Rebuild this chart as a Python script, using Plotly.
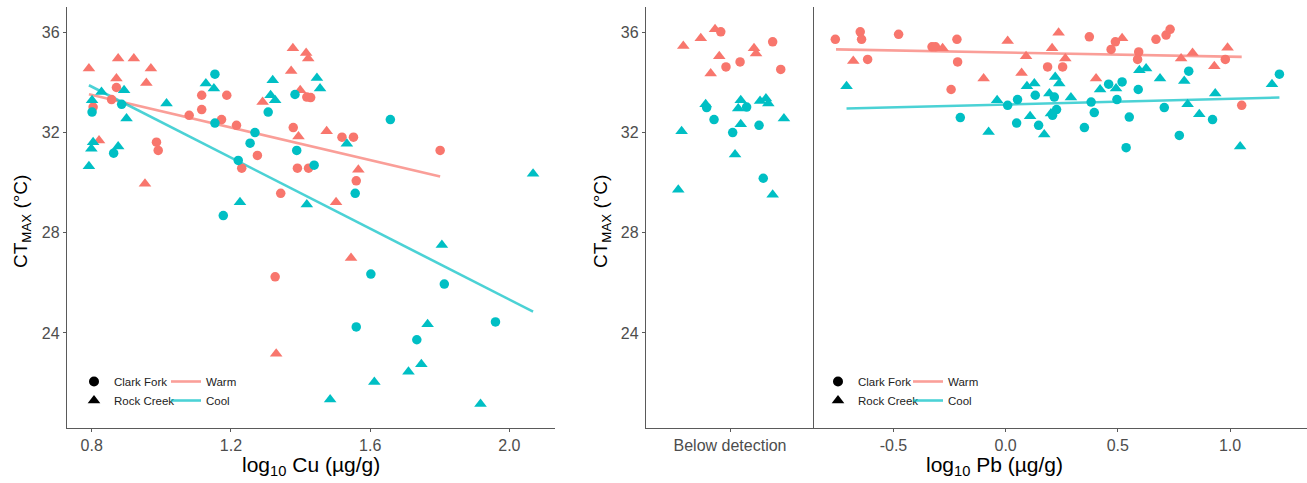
import plotly.graph_objects as go

WARM = '#F8766D'
COOL = '#00BFC4'

# ---------------- Left panel: log10 Cu ----------------
cu_warm_cf_x = [0.804, 0.857, 0.871, 0.986, 0.991, 1.080, 1.116, 1.116, 1.188, 1.173, 1.216, 1.231,
                1.276, 1.343, 1.379, 1.391, 1.423, 1.418, 1.429, 1.519, 1.552, 1.560, 1.801, 1.327]
cu_warm_cf_y = [33.01, 33.31, 33.79, 31.61, 31.28, 32.68, 33.48, 32.91, 33.48, 32.51, 32.28, 30.57,
                31.08, 29.57, 32.19, 30.57, 30.57, 33.41, 33.39, 31.81, 31.81, 30.07, 31.28, 26.24]
cu_warm_rc_x = [0.792, 0.876, 0.921, 0.970, 0.871, 0.957, 0.821, 0.953, 1.291, 1.378, 1.416, 1.422,
                1.373, 1.399, 1.394, 1.475, 1.502, 1.566, 1.330, 1.545]
cu_warm_rc_y = [34.55, 34.95, 34.95, 34.55, 34.15, 33.97, 31.68, 29.95, 33.21, 35.35, 35.17, 34.95,
                34.45, 33.68, 31.84, 32.04, 29.21, 30.51, 23.17, 26.99]
cu_cool_cf_x = [0.801, 0.863, 0.886, 1.154, 1.154, 1.269, 1.255, 1.221, 1.307, 1.384, 1.389, 1.439,
                1.178, 1.557, 1.658, 1.560, 1.602, 1.813, 1.734, 1.960]
cu_cool_cf_y = [32.81, 31.17, 33.12, 34.32, 32.37, 31.99, 31.57, 30.88, 32.81, 33.51, 31.28, 30.69,
                28.68, 29.57, 32.51, 24.24, 26.35, 25.95, 23.73, 24.44]
cu_cool_rc_x = [0.792, 0.799, 0.804, 0.801, 0.828, 0.876, 0.893, 0.900, 1.015, 1.128, 1.151, 1.226,
                1.320, 1.314, 1.327, 1.418, 1.447, 1.456, 1.533, 2.068, 1.485, 1.806, 1.765, 1.747,
                1.710, 1.612, 1.917]
cu_cool_rc_y = [30.65, 31.35, 31.61, 33.28, 33.61, 31.44, 33.68, 32.55, 33.15, 33.95, 33.75, 29.21,
                34.08, 33.48, 33.28, 29.12, 34.17, 33.75, 31.55, 30.35, 21.35, 27.51, 24.35, 22.75,
                22.45, 22.04, 21.17]
cu_fit_warm_x = [0.792, 1.801]
cu_fit_warm_y = [33.52, 30.24]
cu_fit_cool_x = [0.792, 2.068]
cu_fit_cool_y = [33.88, 24.85]

# ---------------- Right panel: below detection (jittered) ----------------
bd_warm_cf_x = [-0.055, -0.024, 0.060, 0.254, 0.302]
bd_warm_cf_y = [36.01, 34.61, 34.81, 35.61, 34.51]
bd_warm_rc_x = [-0.278, -0.174, -0.089, -0.064, -0.115, 0.143, 0.155]
bd_warm_rc_y = [35.44, 35.75, 36.11, 35.04, 34.35, 35.35, 35.15]
bd_cool_cf_x = [-0.139, -0.095, 0.099, 0.016, 0.173, 0.198]
bd_cool_cf_y = [32.99, 32.51, 33.01, 31.99, 32.28, 30.17]
bd_cool_rc_x = [-0.288, -0.308, -0.145, 0.064, 0.049, 0.064, 0.030, 0.179, 0.214, 0.228, 0.321, 0.254]
bd_cool_rc_y = [32.04, 29.71, 33.12, 33.28, 32.95, 32.32, 31.12, 33.25, 33.35, 33.15, 32.55, 29.51]

# ---------------- Right panel: log10 Pb ----------------
pb_warm_cf_x = [-0.759, -0.648, -0.642, -0.615, -0.477, -0.328, -0.313, -0.217, -0.214, -0.243, 0.187,
                0.254, 0.373, 0.489, 0.470, 0.593, 0.588, 0.670, 0.715, 0.733, 0.979, 1.052]
pb_warm_cf_y = [35.71, 36.01, 35.71, 34.91, 35.91, 35.41, 35.41, 35.71, 34.81, 33.71, 34.61,
                34.61, 35.81, 35.61, 35.31, 35.21, 34.91, 35.71, 35.88, 36.11, 34.91, 33.08]
pb_warm_rc_x = [-0.679, -0.281, -0.098, 0.009, 0.091, 0.071, 0.236, 0.207, 0.266, 0.519, 0.403, 0.782,
                0.833, 0.930, 0.989]
pb_warm_rc_y = [34.85, 35.35, 34.15, 35.64, 35.04, 34.37, 35.97, 35.35, 34.95, 35.75, 34.15, 34.95,
                35.17, 34.64, 35.37]
pb_cool_cf_x = [-0.202, 0.009, 0.053, 0.049, 0.147, 0.132, 0.217, 0.227, 0.209, 0.351, 0.381, 0.395,
                0.459, 0.519, 0.496, 0.551, 0.537, 0.591, 0.707, 0.774, 0.816, 0.922, 1.220]
pb_cool_cf_y = [32.59, 33.08, 33.31, 32.37, 32.28, 33.48, 33.41, 32.91, 32.68, 32.19, 33.21, 32.79,
                33.92, 34.01, 33.31, 32.61, 31.39, 33.71, 32.99, 31.88, 34.44, 32.51, 34.32]
pb_cool_rc_x = [-0.709, -0.076, -0.038, 0.095, 0.128, 0.109, 0.172, 0.195, 0.221, 0.239, 0.202, 0.291,
                0.421, 0.492, 0.596, 0.626, 0.688, 0.796, 0.811, 0.863, 0.934, 1.045, 1.187]
pb_cool_rc_y = [33.84, 32.01, 33.28, 33.84, 33.95, 32.64, 31.92, 33.55, 34.21, 33.95, 32.75, 33.39,
                33.71, 33.75, 34.48, 34.55, 34.15, 34.05, 33.12, 32.72, 33.55, 31.44, 33.92]
pb_fit_warm_x = [-0.756, 1.052]
pb_fit_warm_y = [35.31, 35.01]
pb_fit_cool_x = [-0.709, 1.220]
pb_fit_cool_y = [32.95, 33.39]

y_ticks = [24, 28, 32, 36]
cu_ticks = [0.8, 1.2, 1.6, 2.0]
cu_ticktext = ['0.8', '1.2', '1.6', '2.0']
pb_ticks = [-0.5, 0.0, 0.5, 1.0]
pb_ticktext = ['-0.5', '0.0', '0.5', '1.0']
bd_label = ['Below detection']

FONT = 'Liberation Sans, Arial, Helvetica, sans-serif'
CIRCLE_SIZE = 9.5
TRI_SIZE = 11

fig = go.Figure()


def add_points(x, y, color, symbol, xa, ya):
    fig.add_trace(go.Scatter(
        x=x, y=y, mode='markers', xaxis=xa, yaxis=ya, showlegend=False, hoverinfo='skip',
        marker=dict(color=color, symbol=symbol,
                    size=CIRCLE_SIZE if symbol == 'circle' else TRI_SIZE,
                    line=dict(width=0))))


def add_fit(x, y, color, xa, ya):
    fig.add_trace(go.Scatter(
        x=x, y=y, mode='lines', xaxis=xa, yaxis=ya, showlegend=False, hoverinfo='skip',
        opacity=0.7, line=dict(color=color, width=2.6)))


# left panel
add_fit(cu_fit_warm_x, cu_fit_warm_y, WARM, 'x', 'y')
add_fit(cu_fit_cool_x, cu_fit_cool_y, COOL, 'x', 'y')
add_points(cu_warm_cf_x, cu_warm_cf_y, WARM, 'circle', 'x', 'y')
add_points(cu_warm_rc_x, cu_warm_rc_y, WARM, 'triangle-up', 'x', 'y')
add_points(cu_cool_cf_x, cu_cool_cf_y, COOL, 'circle', 'x', 'y')
add_points(cu_cool_rc_x, cu_cool_rc_y, COOL, 'triangle-up', 'x', 'y')

# below detection
add_points(bd_warm_cf_x, bd_warm_cf_y, WARM, 'circle', 'x2', 'y2')
add_points(bd_warm_rc_x, bd_warm_rc_y, WARM, 'triangle-up', 'x2', 'y2')
add_points(bd_cool_cf_x, bd_cool_cf_y, COOL, 'circle', 'x2', 'y2')
add_points(bd_cool_rc_x, bd_cool_rc_y, COOL, 'triangle-up', 'x2', 'y2')

# Pb panel
add_fit(pb_fit_warm_x, pb_fit_warm_y, WARM, 'x3', 'y3')
add_fit(pb_fit_cool_x, pb_fit_cool_y, COOL, 'x3', 'y3')
add_points(pb_warm_cf_x, pb_warm_cf_y, WARM, 'circle', 'x3', 'y3')
add_points(pb_warm_rc_x, pb_warm_rc_y, WARM, 'triangle-up', 'x3', 'y3')
add_points(pb_cool_cf_x, pb_cool_cf_y, COOL, 'circle', 'x3', 'y3')
add_points(pb_cool_rc_x, pb_cool_rc_y, COOL, 'triangle-up', 'x3', 'y3')

# legends (two per panel: shapes and lines)
for leg_shape, leg_line in (('legend', 'legend2'), ('legend3', 'legend4')):
    fig.add_trace(go.Scatter(x=[None], y=[None], mode='markers', name='Clark Fork', legend=leg_shape,
                             marker=dict(color='black', symbol='circle', size=10)))
    fig.add_trace(go.Scatter(x=[None], y=[None], mode='markers', name='Rock Creek', legend=leg_shape,
                             marker=dict(color='black', symbol='triangle-up', size=11)))
    fig.add_trace(go.Scatter(x=[None], y=[None], mode='lines', name='Warm', legend=leg_line,
                             opacity=0.7, line=dict(color=WARM, width=2.6)))
    fig.add_trace(go.Scatter(x=[None], y=[None], mode='lines', name='Cool', legend=leg_line,
                             opacity=0.7, line=dict(color=COOL, width=2.6)))

W, H = 1307, 483
LINE_COL = '#5a5a5a'
TICK_FONT = dict(family=FONT, size=16, color='#4D4D4D')
ydom = [1 - 428 / H, 1 - 7 / H]
yrange = [20.21, 37.0]

common_x = dict(showline=True, linecolor=LINE_COL, linewidth=1.3, ticks='outside', ticklen=3,
                tickcolor=LINE_COL, tickwidth=1, showgrid=False, zeroline=False, tickfont=TICK_FONT,
                fixedrange=True)
common_y = dict(showline=True, linecolor=LINE_COL, linewidth=1.3, ticks='outside', ticklen=3,
                tickcolor=LINE_COL, tickwidth=1, showgrid=False, zeroline=False, tickfont=TICK_FONT,
                range=yrange, domain=ydom, tickvals=y_ticks, fixedrange=True)

leg_common = dict(bgcolor='rgba(0,0,0,0)', font=dict(family=FONT, size=11.5, color='#222'),
                  xanchor='left', yanchor='top', tracegroupgap=0, itemwidth=30)

TITLE_FONT = dict(family=FONT, size=21, color='black')
YTITLE_FONT = dict(family=FONT, size=19, color='black')

fig.update_layout(
    width=W, height=H,
    margin=dict(l=0, r=0, t=0, b=0),
    paper_bgcolor='white', plot_bgcolor='white',
    font=dict(family=FONT),
    xaxis=dict(common_x, domain=[67 / W, 555 / W], range=[0.729, 2.131], anchor='y',
               tickvals=cu_ticks, ticktext=cu_ticktext),
    yaxis=dict(common_y, anchor='x'),
    xaxis2=dict(common_x, domain=[646 / W, 814 / W], range=[-0.5, 0.5], anchor='y2',
                tickvals=[0], ticktext=bd_label),
    yaxis2=dict(common_y, anchor='x2'),
    xaxis3=dict(common_x, domain=[814 / W, 1.0], range=[-0.854, 1.343], anchor='y3',
                tickvals=pb_ticks, ticktext=pb_ticktext),
    yaxis3=dict(common_y, anchor='x3', showticklabels=False, ticks=''),
    legend=dict(leg_common, x=74 / W, y=1 - 367 / H),
    legend2=dict(leg_common, x=166 / W, y=1 - 367 / H),
    legend3=dict(leg_common, x=818 / W, y=1 - 367 / H),
    legend4=dict(leg_common, x=908 / W, y=1 - 367 / H),
    annotations=[
        dict(text='log<sub>10</sub> Cu (µg/g)', x=311 / W, y=1 - 466 / H, xref='paper', yref='paper',
             showarrow=False, xanchor='center', yanchor='middle', font=TITLE_FONT),
        dict(text='log<sub>10</sub> Pb (µg/g)', x=994 / W, y=1 - 466 / H, xref='paper', yref='paper',
             showarrow=False, xanchor='center', yanchor='middle', font=TITLE_FONT),
        dict(text='CT<sub>MAX</sub> (°C)', x=22 / W, y=1 - 222 / H, xref='paper', yref='paper',
             showarrow=False, xanchor='center', yanchor='middle', textangle=-90, font=YTITLE_FONT),
        dict(text='CT<sub>MAX</sub> (°C)', x=602 / W, y=1 - 222 / H, xref='paper', yref='paper',
             showarrow=False, xanchor='center', yanchor='middle', textangle=-90, font=YTITLE_FONT),
    ],
)

fig.write_html('out.html', config={'displayModeBar': False},
               post_script="document.body.style.margin='0';")
